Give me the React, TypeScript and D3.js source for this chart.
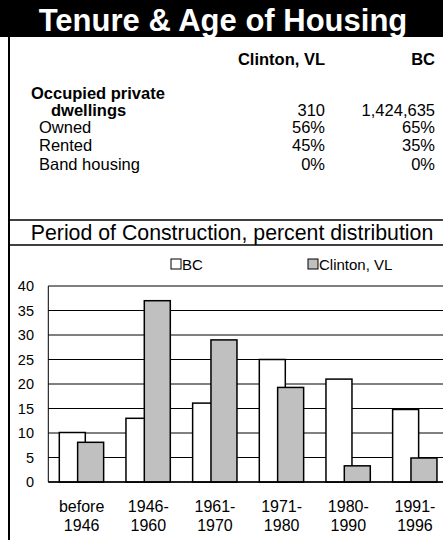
import * as d3 from 'd3';

const W = 443;
const H = 540;

const columns = ['Clinton, VL', 'BC'];
const rowLabels = ['Owned', 'Rented', 'Band housing'];
const clintonTable = ['310', '56%', '45%', '0%'];
const bcTable = ['1,424,635', '65%', '35%', '0%'];

const periods = ['before|1946', '1946-|1960', '1961-|1970', '1971-|1980', '1980-|1990', '1991-|1996'];
const bcValues = [10.1, 13, 16.1, 25, 21, 14.8];
const clintonValues = [8.1, 37, 29, 19.3, 3.3, 4.9];
const yTicks = [0, 5, 10, 15, 20, 25, 30, 35, 40];

const FONT = "'Liberation Sans', Arial, sans-serif";

const plot = { left: 48.3, right: 448.3, top: 286, bottom: 482 };
const rowY = [133, 151, 170];

function App() {
  const x = d3.scaleBand().domain(periods).range([plot.left, plot.right]).padding(0);
  const y = d3.scaleLinear().domain([0, 40]).range([plot.bottom, plot.top]);
  const bw = x.bandwidth();
  const barW = bw * 0.39;

  return (
    <svg width={W} height={H} style={{ position: 'absolute', left: 0, top: 0 }} fontFamily={FONT}>
      <rect x={0} y={0} width={W} height={H} fill="#fff" />
      {/* title bar */}
      <rect x={0} y={0} width={W} height={37} fill="#000" />
      <text x={223} y={31} textAnchor="middle" fill="#fff" fontWeight="bold" fontSize={31}>
        Tenure &amp; Age of Housing
      </text>

      {/* box outline */}
      <line x1={9} x2={9} y1={37} y2={H} stroke="#000" strokeWidth={2} />
      <line x1={9} x2={W} y1={220} y2={220} stroke="#000" strokeWidth={1.5} />
      <line x1={9} x2={W} y1={245} y2={245} stroke="#000" strokeWidth={1.5} />

      {/* table */}
      <g fontSize={16.5}>
        <text x={325} y={65} textAnchor="end" fontWeight="bold">{columns[0]}</text>
        <text x={435} y={65} textAnchor="end" fontWeight="bold">{columns[1]}</text>
        <text x={31} y={99} fontWeight="bold">Occupied private</text>
        <text x={51} y={116} fontWeight="bold">dwellings</text>
        <text x={325} y={116} textAnchor="end">{clintonTable[0]}</text>
        <text x={435} y={116} textAnchor="end">{bcTable[0]}</text>
        {rowLabels.map((r, i) => (
          <g key={r}>
            <text x={39} y={rowY[i]}>{r}</text>
            <text x={325} y={rowY[i]} textAnchor="end">{clintonTable[i + 1]}</text>
            <text x={435} y={rowY[i]} textAnchor="end">{bcTable[i + 1]}</text>
          </g>
        ))}
      </g>

      <text x={232} y={240} textAnchor="middle" fontSize={21.3}>
        Period of Construction, percent distribution
      </text>

      {/* legend */}
      <g fontSize={15}>
        <rect x={171} y={259} width={10} height={10} fill="#fff" stroke="#000" strokeWidth={1} />
        <text x={182} y={270}>BC</text>
        <rect x={308} y={259} width={10} height={10} fill="#c0c0c0" stroke="#000" strokeWidth={1} />
        <text x={319} y={270}>Clinton, VL</text>
      </g>

      {/* grid */}
      {yTicks.map(t => (
        <g key={t}>
          <line x1={plot.left} x2={W} y1={y(t)} y2={y(t)} stroke="#000" strokeWidth={1} />
          <text x={34} y={y(t) + 5} textAnchor="end" fontSize={14.5}>{t}</text>
        </g>
      ))}
      <line x1={plot.left} x2={plot.left} y1={plot.top} y2={plot.bottom} stroke="#000" strokeWidth={1} />

      {/* bars */}
      {periods.map((p, i) => (
        <g key={p}>
          <rect x={x(p)! + bw * 0.165} y={y(bcValues[i])} width={barW} height={y(0) - y(bcValues[i])}
            fill="#fff" stroke="#000" strokeWidth={1.5} />
          <rect x={x(p)! + bw * 0.44} y={y(clintonValues[i])} width={barW} height={y(0) - y(clintonValues[i])}
            fill="#c0c0c0" stroke="#000" strokeWidth={1.5} />
        </g>
      ))}
      <line x1={plot.left} x2={W} y1={plot.bottom} y2={plot.bottom} stroke="#000" strokeWidth={1.5} />

      {/* x labels */}
      {periods.map(p => {
        const [a, b] = p.split('|');
        const cx = x(p)! + bw / 2;
        return (
          <text key={p} x={cx} textAnchor="middle" fontSize={16}>
            <tspan x={cx} y={512}>{a}</tspan>
            <tspan x={cx} y={531}>{b}</tspan>
          </text>
        );
      })}
    </svg>
  );
}

export default App;
